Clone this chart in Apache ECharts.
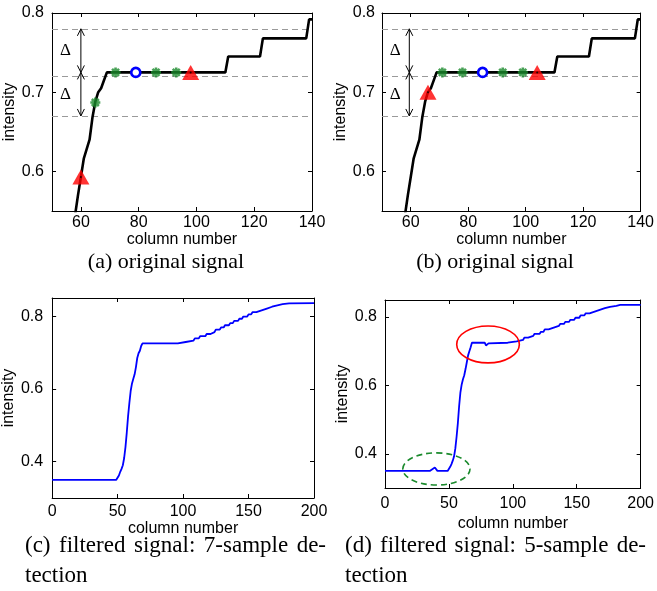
<!DOCTYPE html>
<html><head><meta charset="utf-8">
<script src="https://cdn.jsdelivr.net/npm/echarts@6/dist/echarts.min.js"></script>
<style>html,body{margin:0;padding:0;background:#fff}#c{width:657px;height:591px}</style>
</head><body><div id="c"></div>
<script>
// ---------- data ----------
// original signal (panels a, b): [column, intensity]
const origSignal = [[58,0.545],[59,0.570],[60,0.593],[61,0.616],[62,0.628],[63,0.640],[64,0.668],[65,0.688],[66,0.700],[67,0.705],[68,0.715],[69,0.725],[110,0.725],[111,0.745],[122,0.745],[123,0.768],[138,0.768],[139,0.792],[140,0.792]];
const thresholds = [0.78, 0.725, 0.67];
// panel a markers
const triA = [[60,0.593],[98,0.725]];
const starA = [[65,0.687],[72,0.725],[86,0.725],[93,0.725]];
const circA = [[79,0.725]];
const arrowsA = [[60,0.78,0.725],[60,0.725,0.67]];
const deltaA = [[54.7,0.752],[54.7,0.697]];
// panel b markers
const triB = [[66,0.700],[104,0.725]];
const starB = [[71,0.725],[78,0.725],[92,0.725],[99,0.725]];
const circB = [[85,0.725]];
const arrowsB = [[59.5,0.78,0.725],[59.5,0.725,0.67]];
const deltaB = [[54.6,0.753],[54.6,0.697]];
// panel c filtered signal
const filtC = [[0,0.35],[49,0.35],[50,0.355],[51,0.362],[52,0.372],[53,0.380],[54,0.390],[55,0.410],[56,0.440],[57,0.480],[58,0.525],[59,0.562],[60,0.595],[61,0.615],[62,0.628],[63,0.640],[64,0.660],[65,0.685],[66,0.698],[67,0.705],[68,0.718],[69,0.725],
 [96,0.725],[97,0.729],[102,0.729],[103,0.733],[108,0.733],[109,0.739],[112,0.739],[113,0.745],[117,0.745],[118,0.751],[121,0.751],[122,0.756],[124,0.756],[125,0.763],[128,0.763],[129,0.769],[131,0.769],[132,0.775],[135,0.775],[136,0.781],[138,0.781],[139,0.787],[142,0.787],[143,0.793],[145,0.793],[146,0.799],[149,0.799],[150,0.805],[152,0.805],[153,0.811],[156,0.811],[157,0.816],[160,0.816],[161,0.821],[164,0.821],[165,0.826],[168,0.826],[169,0.830],[172,0.830],[173,0.833],[176,0.833],[177,0.835],[181,0.835],[182,0.836],[200,0.836]];
// panel d filtered signal
const filtD = [[0,0.35],[35,0.35],[36,0.352],[37,0.355],[38,0.358],[39,0.360],[40,0.356],[41,0.35],[49,0.35],[50,0.355],[51,0.362],[52,0.370],[53,0.380],[54,0.392],[55,0.415],[56,0.450],[57,0.490],[58,0.540],[59,0.580],[60,0.603],[61,0.618],[62,0.630],[63,0.648],[64,0.668],[65,0.688],[66,0.700],[67,0.712],[68,0.725],
 [78,0.725],[79,0.717],[80,0.720],[81,0.723],[82,0.725],[96,0.725],[97,0.729],[103,0.729],[104,0.733],[108,0.733],[109,0.740],[112,0.740],[113,0.745],[116,0.745],[117,0.751],[121,0.751],[122,0.757],[124,0.757],[125,0.764],[128,0.764],[129,0.769],[132,0.769],[133,0.774],[136,0.774],[137,0.780],[140,0.780],[141,0.786],[144,0.786],[145,0.792],[148,0.792],[149,0.798],[152,0.798],[153,0.805],[156,0.805],[157,0.811],[160,0.811],[161,0.816],[164,0.816],[165,0.821],[168,0.821],[169,0.826],[172,0.826],[173,0.830],[176,0.830],[177,0.833],[181,0.833],[184,0.836],[200,0.836]];
const redEllipse = [[80.6,0.720,24.5,0.054]];
const greenEllipse = [[40.2,0.3557,26.3,0.047]];
// tick labels
const xTicksTop = [60,80,100,120,140];
const yTicksTop = [0.6,0.7,0.8];
const xTicksBot = [0,50,100,150,200];
const yTicksBot = [0.4,0.6,0.8];

// ---------- layout ----------
const SANS = 'Liberation Sans';
const grids = [
  {left:52, top:13, width:260, height:198},
  {left:382, top:13, width:261, height:198},
  {left:52, top:298, width:262, height:200},
  {left:385, top:300, width:256, height:188}
];
const panels = [
  {x:[50,140], xt:xTicksTop, y:[0.55,0.8], yt:yTicksTop, xm:4, xg:20, ym:8, yg:29},
  {x:[50,140], xt:xTicksTop, y:[0.55,0.8], yt:yTicksTop, xm:4, xg:20, ym:7, yg:29},
  {x:[0,200], xt:xTicksBot, y:[0.3,0.85], yt:yTicksBot, xm:6, xg:21, ym:9, yg:29},
  {x:[0,200], xt:xTicksBot, y:[0.3,0.85], yt:yTicksBot, xm:8, xg:28, ym:8, yg:32}
];
const xAxes = [], yAxes = [];
panels.forEach((p, i) => {
  const line = {show:true, onZero:false, lineStyle:{color:'#000', width:1}};
  const tick = v => ({show:true, inside:true, length:4, customValues:v, lineStyle:{color:'#000', width:1}});
  const txt = {fontFamily:SANS, fontSize:16, color:'#000'};
  xAxes.push({gridIndex:i, type:'value', position:'bottom', min:p.x[0], max:p.x[1], splitLine:{show:false}, axisLine:line, axisTick:tick(p.xt),
    axisLabel:Object.assign({margin:p.xm, customValues:p.xt, formatter:v=>String(v)}, txt),
    name:'column number', nameLocation:'middle', nameGap:p.xg, nameTextStyle:txt});
  xAxes.push({gridIndex:i, type:'value', position:'top', min:p.x[0], max:p.x[1], splitLine:{show:false}, axisLine:line, axisTick:tick(p.xt), axisLabel:{show:false}});
  yAxes.push({gridIndex:i, type:'value', position:'left', min:p.y[0], max:p.y[1], splitLine:{show:false}, axisLine:line, axisTick:tick(p.yt),
    axisLabel:Object.assign({margin:p.ym, customValues:p.yt, formatter:v=>v.toFixed(1)}, txt),
    name:'intensity', nameLocation:'middle', nameGap:p.yg, nameRotate:90, nameTextStyle:txt});
  yAxes.push({gridIndex:i, type:'value', position:'right', min:p.y[0], max:p.y[1], splitLine:{show:false}, axisLine:line, axisTick:tick(p.yt), axisLabel:{show:false}});
});

const GREEN = '#1a8a2c';
const STAR = 'path://M3.7,0H6.3V10H3.7Z M0,3.7H10V6.3H0Z M0.6,2.4L2.4,0.6L9.4,7.6L7.6,9.4Z M7.6,0.6L9.4,2.4L2.4,9.4L0.6,7.6Z';
function arrowItem(params, api){
  const a = api.coord([api.value(0), api.value(1)]);
  const b = api.coord([api.value(0), api.value(2)]);
  const top = a[1] < b[1] ? a : b, bot = a[1] < b[1] ? b : a;
  const w = 3.5, h = 7, st = {stroke:'#000', lineWidth:1, fill:null};
  return {type:'group', children:[
    {type:'line', shape:{x1:top[0], y1:top[1], x2:bot[0], y2:bot[1]}, style:st},
    {type:'polyline', shape:{points:[[top[0]-w, top[1]+h],[top[0], top[1]],[top[0]+w, top[1]+h]]}, style:st},
    {type:'polyline', shape:{points:[[bot[0]-w, bot[1]-h],[bot[0], bot[1]],[bot[0]+w, bot[1]-h]]}, style:st}
  ]};
}
function deltaItem(params, api){
  const c = api.coord([api.value(0), api.value(1)]);
  return {type:'text', x:c[0], y:c[1], style:{text:'\u0394', font:'17px "Liberation Serif"', fill:'#000', align:'center', verticalAlign:'middle'}};
}
function ellipseItem(color, dash){
  return function(params, api){
    const c = api.coord([api.value(0), api.value(1)]);
    const s = api.size([api.value(2), api.value(3)]);
    return {type:'ellipse', shape:{cx:c[0], cy:c[1], rx:s[0], ry:s[1]}, style:{fill:null, stroke:color, lineWidth:1.6, lineDash:dash}};
  };
}

const series = [];
[[triA, starA, circA, arrowsA, deltaA], [triB, starB, circB, arrowsB, deltaB]].forEach((m, i) => {
  const ax = {xAxisIndex:2*i, yAxisIndex:2*i};
  series.push(Object.assign({type:'line', data:[], z:1, silent:true,
    markLine:{silent:true, z:1, symbol:['none','none'], label:{show:false}, lineStyle:{color:'#9a9a9a', width:1.2, type:[6,4]},
      data:thresholds.map(v => ({yAxis:v}))}}, ax));
  series.push(Object.assign({type:'line', data:origSignal, showSymbol:false, z:3, lineStyle:{color:'#000', width:2.6}}, ax));
  series.push(Object.assign({type:'custom', data:m[3], renderItem:arrowItem, z:2, silent:true}, ax));
  series.push(Object.assign({type:'custom', data:m[4], renderItem:deltaItem, z:2, silent:true}, ax));
  series.push(Object.assign({type:'scatter', data:m[1], symbol:STAR, symbolSize:10, itemStyle:{color:GREEN}, z:5}, ax));
  series.push(Object.assign({type:'scatter', data:m[2], symbol:'circle', symbolSize:9, itemStyle:{color:'#ffffff', borderColor:'#0000ff', borderWidth:2.6, opacity:1}, z:5}, ax));
  series.push(Object.assign({type:'scatter', data:m[0], symbol:'triangle', symbolSize:[17,15], itemStyle:{color:'#ff0000'}, z:6}, ax));
  series.push(Object.assign({type:'scatter', data:m[0], symbol:'circle', symbolSize:2, itemStyle:{color:'#000'}, z:7}, ax));
});
series.push({type:'line', xAxisIndex:4, yAxisIndex:4, data:filtC, showSymbol:false, lineStyle:{color:'#0000ff', width:1.8}});
series.push({type:'line', xAxisIndex:6, yAxisIndex:6, data:filtD, showSymbol:false, lineStyle:{color:'#0000ff', width:1.8}});
series.push({type:'custom', xAxisIndex:6, yAxisIndex:6, data:redEllipse, renderItem:ellipseItem('#ff0000', null), silent:true, z:4});
series.push({type:'custom', xAxisIndex:6, yAxisIndex:6, data:greenEllipse, renderItem:ellipseItem(GREEN, [6,4]), silent:true, z:4});

// ---------- captions ----------
const CAP2 = 23;
const mctx = document.createElement('canvas').getContext('2d');
mctx.font = CAP2 + 'px "Liberation Serif"';
function textEl(t, x, y, align, size){
  return {type:'text', x:x, y:y, style:{text:t, font:(size||22)+'px "Liberation Serif"', fill:'#000', align:align||'left', verticalAlign:'middle'}};
}
function justified(list, x0, x1, y){
  const ws = list.map(w => mctx.measureText(w).width);
  const gap = (x1 - x0 - ws.reduce((a,b)=>a+b,0)) / (list.length - 1);
  const out = []; let x = x0;
  list.forEach((w, k) => { out.push(textEl(w, x, y, 'left', CAP2)); x += ws[k] + gap; });
  return out;
}
const graphic = [
  textEl('(a) original signal', 166, 262, 'center'),
  textEl('(b) original signal', 495, 262, 'center'),
  ...justified(['(c)','filtered','signal:','7-sample','de-'], 25, 326, 546),
  textEl('tection', 25, 576, 'left', CAP2),
  ...justified(['(d)','filtered','signal:','5-sample','de-'], 345, 646, 546),
  textEl('tection', 345, 576, 'left', CAP2)
];

const chart = echarts.init(document.getElementById('c'));
chart.setOption({
  animation:false,
  backgroundColor:'#fff',
  grid:grids,
  xAxis:xAxes,
  yAxis:yAxes,
  series:series,
  graphic:graphic
});
</script></body></html>
